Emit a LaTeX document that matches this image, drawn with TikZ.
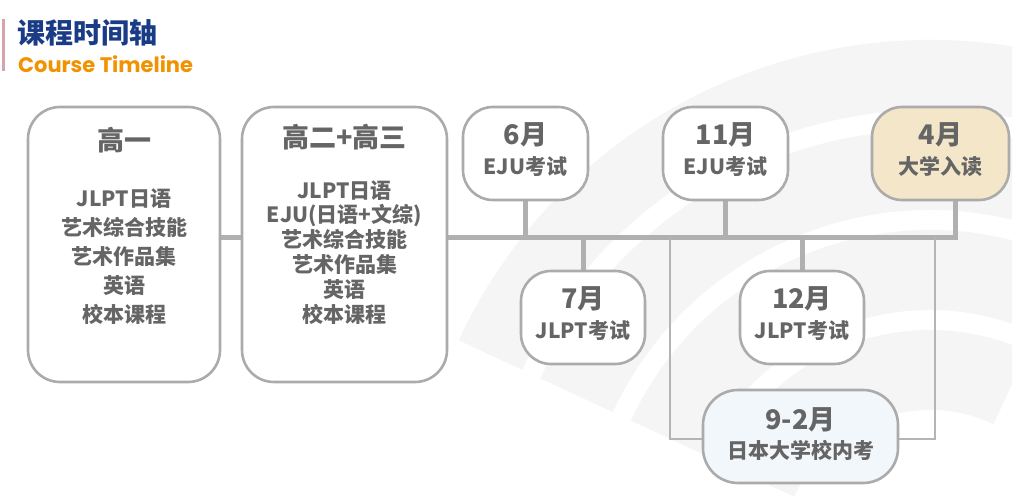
\documentclass[tikz,border=0pt]{standalone}
\usepackage{fontspec}
\setmainfont{Noto Sans CJK SC}
\newfontfamily\popfont{Poppins}
\usetikzlibrary{backgrounds}
\definecolor{txtgray}{HTML}{656565}
\definecolor{boxgray}{HTML}{ABABAB}
\definecolor{linegray}{HTML}{B0B0B0}
\definecolor{thingray}{HTML}{B4B4B4}
\definecolor{tanfill}{HTML}{F3E6C9}
\definecolor{bluefill}{HTML}{F2F7FC}
\definecolor{wmgray}{HTML}{F5F5F5}
\definecolor{titleblue}{HTML}{1A3C87}
\definecolor{titleorange}{HTML}{F29200}
\definecolor{barpink}{HTML}{D6A3AD}
\begin{document}
\begin{tikzpicture}[x=1pt,y=-1pt,
  bigbox/.style={draw=boxgray, line width=2.6pt, rounded corners=32pt, fill=white, inner sep=0pt},
  smallbox/.style={draw=boxgray, line width=2.6pt, rounded corners=30pt, fill=white, inner sep=0pt, minimum height=93pt},
  headtxt/.style={text=txtgray, font=\bfseries\fontsize{27}{27}\selectfont, inner sep=0pt, anchor=base},
  itemtxt/.style={text=txtgray, font=\bfseries\fontsize{21}{21}\selectfont, inner sep=0pt, anchor=base},
  axisline/.style={draw=linegray, line width=5pt},
  thinline/.style={draw=thingray, line width=1.4pt}]
\useasboundingbox (0,0) rectangle (1012,500);
\begin{scope}[on background layer]
  \fill[white] (0,0) rectangle (1012,500);
  % watermark
  \begin{scope}
    \clip (0,0) rectangle (1012,500);
    \begin{scope}[shift={(930,560)}, x=1pt, y=1pt]
      \foreach \ra/\rb in {150/230, 250/330, 350/430, 450/520} {
        \fill[wmgray] (65:\ra) arc[start angle=65, end angle=155, radius=\ra] -- (155:\rb) arc[start angle=155, end angle=65, radius=\rb] -- cycle;
      }
    \end{scope}
  \end{scope}
\end{scope}
% title
\fill[barpink] (2,19) rectangle (5,71);
\node[anchor=base west, inner sep=0pt, text=titleblue, font=\bfseries\fontsize{28}{28}\selectfont] (title) at (17,44) {课程时间轴};
\node[anchor=base west, inner sep=0pt, text=titleorange, font=\popfont\bfseries\fontsize{21}{21}\selectfont] (subtitle) at (18,73) {Course Timeline};
% boxes
\node[bigbox, minimum width=192pt, minimum height=275pt] (b1) at (124,244.5) {};
\node[bigbox, minimum width=205pt, minimum height=275pt] (b2) at (344.5,244.5) {};
\node[smallbox, minimum width=125pt] (m6) at (525.5,153.5) {};
\node[smallbox, minimum width=125pt] (m11) at (725.5,153.5) {};
\node[smallbox, minimum width=137pt, fill=tanfill] (m4) at (940.5,153.5) {};
\node[smallbox, minimum width=124pt] (m7) at (583,317.5) {};
\node[smallbox, minimum width=124pt] (m12) at (802,317.5) {};
\node[smallbox, minimum width=195pt, rounded corners=35pt, fill=bluefill] (m92) at (800.5,436.5) {};
% connectors
\coordinate (axis) at (0,237);
\coordinate (bl) at (670,439);
\coordinate (br) at (935,439);
\coordinate (end4) at (955,200);
\begin{scope}[on background layer]
  \draw[axisline] (b1.east |- axis) -- (b2.west |- axis);
  \draw[axisline] (b2.east |- axis) -- (end4 |- axis) -- (end4);
  \draw[axisline] (m6.south) -- (m6.south |- axis);
  \draw[axisline] (m11.south) -- (m11.south |- axis);
  \draw[axisline] (m7.north) -- (m7.north |- axis);
  \draw[axisline] (m12.north) -- (m12.north |- axis);
  \draw[thinline] (bl |- axis) -- (bl) -- (m92.west |- bl);
  \draw[thinline] (br |- axis) -- (br) -- (m92.east |- br);
\end{scope}
% big box texts
\node[headtxt] (h1) at (124,150) {高一};
\foreach \t [count=\i from 0] in {JLPT日语, 艺术综合技能, 艺术作品集, 英语, 校本课程}
  \node[itemtxt] (b1l\i) at (124,206+29*\i) {\t};
\node[headtxt] (h2) at (344.5,147) {高二+高三};
\foreach \t [count=\i from 0] in {JLPT日语, EJU(日语+文综), 艺术综合技能, 艺术作品集, 英语, 校本课程}
  \node[itemtxt] (b2l\i) at (344.5,198+24.8*\i) {\t};
% small box texts
\node[headtxt] (m6a) at (525.5,145) {6月};
\node[itemtxt] (m6b) at (525.5,175) {EJU考试};
\node[headtxt] (m11a) at (725.5,145) {11月};
\node[itemtxt] (m11b) at (725.5,175) {EJU考试};
\node[headtxt] (m4a) at (940.5,145) {4月};
\node[itemtxt] (m4b) at (940.5,175) {大学入读};
\node[headtxt] (m7a) at (583,308.5) {7月};
\node[itemtxt] (m7b) at (583,338.5) {JLPT考试};
\node[headtxt] (m12a) at (802,308.5) {12月};
\node[itemtxt] (m12b) at (802,338.5) {JLPT考试};
\node[headtxt] (m92a) at (800.5,429) {9-2月};
\node[itemtxt] (m92b) at (800.5,458) {日本大学校内考};
\end{tikzpicture}
\end{document}
